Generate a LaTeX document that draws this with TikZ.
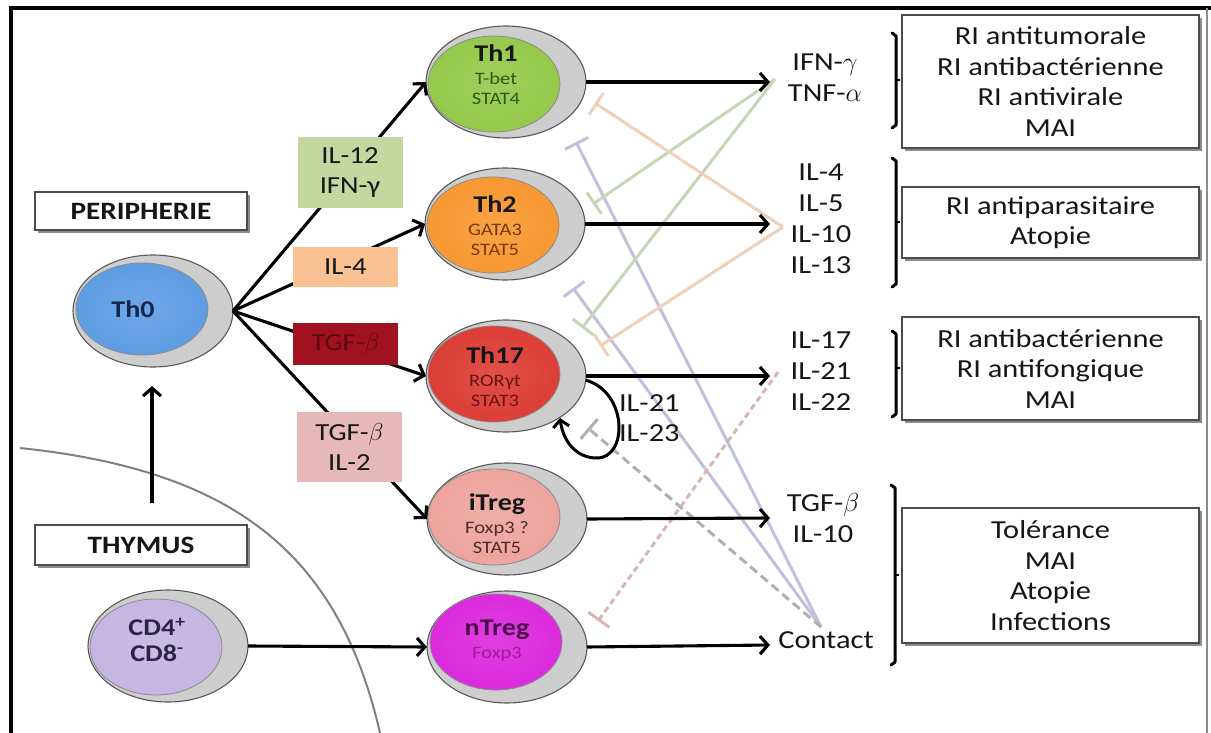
\documentclass[tikz,border=0pt]{standalone}
\usepackage{fix-cm}
\usepackage{fontspec}
\setmainfont{Carlito}[FakeStretch=1.17]
\usetikzlibrary{arrows.meta,shadows,calc,shapes.geometric}

% cell colours
\definecolor{inkc}{HTML}{161616}
\definecolor{thzero}{HTML}{5B9BE3}
\definecolor{thone}{HTML}{93C847}
\definecolor{thtwo}{HTML}{F7962E}
\definecolor{thsev}{HTML}{DB3A32}
\definecolor{itr}{HTML}{EDA29C}
\definecolor{ntr}{HTML}{DB25DB}
\definecolor{cdc}{HTML}{C3B3E1}
\definecolor{thzerotx}{HTML}{17264F}
\definecolor{thonetx}{HTML}{2F5A12}
\definecolor{thtwotx}{HTML}{7A3806}
\definecolor{thsevtx}{HTML}{6A1212}
\definecolor{itrtx}{HTML}{4D2B2B}
\definecolor{ntrname}{HTML}{4A0C4A}
\definecolor{ntrtx}{HTML}{A01AA0}
\definecolor{cdtx}{HTML}{2B2443}
% cytokine cue colours
\definecolor{cuegreen}{HTML}{C4D79E}
\definecolor{cuepeach}{HTML}{FAC293}
\definecolor{cuedark}{HTML}{A0121F}
\definecolor{cuedarktx}{HTML}{5A0A12}
\definecolor{cuepink}{HTML}{E6B9B8}
% inhibition colours
\definecolor{inhg}{HTML}{C6D7B8}
\definecolor{inhp}{HTML}{F0D0B8}
\definecolor{inhl}{HTML}{C0C0DD}
\definecolor{inhgray}{HTML}{B0B0B0}
\definecolor{inhpink}{HTML}{DBB5B5}

% bevelled cell body and membrane shadings
\colorlet{cellbase}{thzero}
\pgfdeclareradialshading[cellbase]{cellbevel}{\pgfpoint{0bp}{0bp}}{%
  color(0bp)=(cellbase!88!white); color(30bp)=(cellbase);
  color(44bp)=(cellbase); color(50bp)=(cellbase!80!black)}
\pgfdeclareradialshading{shellshade}{\pgfpoint{0bp}{0bp}}{%
  color(0bp)=(black!20); color(38bp)=(black!19);
  color(47bp)=(black!11); color(50bp)=(black!16)}

\newcommand\namef{\fontsize{24}{26}\selectfont\bfseries}
\newcommand\subf{\fontsize{17.5}{20}\selectfont}

\begin{document}
\begin{tikzpicture}[x=1pt,y=-1pt,
  every node/.style={inner sep=0pt,outer sep=0pt,text=inkc},
  shell/.style={ellipse,draw=black!65,line width=1.1pt,shading=shellshade,
    minimum width=160pt,minimum height=112pt},
  core/.style={ellipse,draw=black!45,line width=0.8pt,
    /utils/exec={\colorlet{cellbase}{#1}},shading=cellbevel,
    minimum width=132pt,minimum height=96pt},
  celltext/.style={align=center,font=\subf},
  link/.style={line width=3.1pt,-{Straight Barb[length=8pt,width=18pt]}},
  cue/.style={minimum width=105pt,align=center,font=\fontsize{24.5}{30}\selectfont},
  sitebox/.style={draw=black!70,line width=2pt,fill=white,minimum width=212pt,
    font=\fontsize{25}{28}\selectfont\bfseries,
    drop shadow={shadow xshift=3pt,shadow yshift=-3pt,fill=black,opacity=0.45}},
  effbox/.style={draw=black!70,line width=2pt,fill=white,minimum width=297pt,
    align=center,font=\fontsize{26}{30.5}\selectfont,
    drop shadow={shadow xshift=3pt,shadow yshift=-3pt,fill=black,opacity=0.45}},
  cyt/.style={align=center,font=\fontsize{26}{31}\selectfont},
  brk/.style={line width=3pt,line cap=round,line join=round},
  inh/.style={line width=3pt,-{Bar[width=26pt]}},
]
\useasboundingbox (0,0) rectangle (1211,733);

% frame
\draw[line width=3.5pt] (11,733) -- (11,8) -- (1211,8);
\draw[black!45,line width=1.2pt] (1207,8) -- (1207,733);

% thymus / periphery boundary
\draw[black!50,line width=2pt] (20,448) .. controls (230,470) and (338,550) .. (380,733);

% cells
\node[shell] (th0) at (153,311) {};
\node[core=thzero,minimum height=92pt] (th0c) at (142,309) {};
\node[font=\namef,text=thzerotx] (th0t) at (133,309) {Th0};

\node[shell] (th1) at (506,82) {};
\node[core=thone] (th1c) at (494,84) {};
\node[celltext,text=thonetx] (th1t) at (496,75) {\textcolor{inkc}{\namef Th1}\\[3pt] T-bet\\ STAT4};

\node[shell] (th2) at (505,224) {};
\node[core=thtwo] (th2c) at (493,225) {};
\node[celltext,text=thtwotx] (th2t) at (495,226) {\textcolor{inkc}{\namef Th2}\\[3pt] GATA3\\ STAT5};

\node[shell] (th17) at (506,376) {};
\node[core=thsev] (th17c) at (494,374) {};
\node[celltext,text=thsevtx] (th17t) at (495,377) {\textcolor{inkc}{\namef Th17}\\[3pt] RORγt\\ STAT3};

\node[shell] (itreg) at (507,519) {};
\node[core=itr] (itregc) at (494,517) {};
\node[celltext,text=itrtx] (itregt) at (497,524) {\textcolor{inkc}{\namef iTreg}\\[3pt] Foxp3 ?\\ STAT5};

\node[shell] (ntreg) at (507,647) {};
\node[core=ntr] (ntregc) at (496,642) {};
\node[celltext,text=ntrtx] (ntregt) at (497,641) {\textcolor{ntrname}{\namef nTreg}\\[3pt] Foxp3};

\node[shell] (cd4) at (168,646) {};
\node[core=cdc] (cd4c) at (156,647) {};
\node[align=center,font=\namef,text=cdtx] (cd4t) at (157,640) {CD4\textsuperscript{+}\\ CD8\textsuperscript{-}};

% cytokine labels
\node[cyt] (cyt1) at (825,78) {IFN-$\gamma$\\ TNF-$\alpha$};
\node[cyt] (cyt2) at (821,219) {IL-4\\ IL-5\\ IL-10\\ IL-13};
\node[cyt] (cyt3) at (821,371) {IL-17\\ IL-21\\ IL-22};
\node[cyt] (cyt4) at (823,518) {TGF-$\beta$\\ IL-10};
\node[cyt] (cyt5) at (826,640) {Contact};

% arrow ends and inhibition origins
\coordinate (t1) at (770,82);
\coordinate (t2) at (770,224);
\coordinate (t3) at (770,376);
\coordinate (t4) at (770,518);
\coordinate (t5) at (770,645);
\coordinate (apexA) at (775,79);
\coordinate (apexB) at (783,227);
\coordinate (apexC) at (778,372);
\coordinate (apexD) at (821,627);
\coordinate (eA1) at (593,204);
\coordinate (eA2) at (582,328);
\coordinate (eB1) at (595,103);
\coordinate (eB2) at (600,346);
\coordinate (eD1) at (576,142);
\coordinate (eD2) at (573,288);
\coordinate (eD3) at (588,428);
\coordinate (eC1) at (598,621);

% inhibitions
\draw[inh,draw=inhl] (apexD) -- (eD1);
\draw[inh,draw=inhl] (apexD) -- (eD2);
\draw[inh,draw=inhg] (apexA) -- (eA1);
\draw[inh,draw=inhg] (apexA) -- (eA2);
\draw[inh,draw=inhp] (apexB) -- (eB1);
\draw[inh,draw=inhp] (apexB) -- (eB2);
\draw[inh,draw=inhgray,dash pattern=on 9pt off 5pt] (apexD) -- (eD3);
\draw[inh,draw=inhpink,dash pattern=on 6pt off 4pt] (apexC) -- (eC1);

% differentiation
\draw[link] (th0.east) -- (th1.west);
\draw[link] (th0.east) -- (th2.west);
\draw[link] (th0.east) -- (th17.west);
\draw[link] (th0.east) -- (itreg.west);
\draw[link] (cd4.east) -- (ntreg.west);

% secretion
\draw[link] (th1.east) -- (t1);
\draw[link] (th2.east) -- (t2);
\draw[link] (th17.east) -- (t3);
\draw[link] (itreg.east) -- (t4);
\draw[link] (ntreg.east) -- (t5);

% autocrine loop
\draw[line width=3pt,-{Straight Barb[length=7pt,width=16pt]}]
  (th17.-3) .. controls (628,392) and (628,458) .. (597,458)
  .. controls (575,458) and (563,440) .. (560,418);
\node[align=left,font=\fontsize{26}{30}\selectfont,anchor=west] (loopl) at (619,418) {IL-21\\ IL-23};

% cytokine cues
\node[cue,fill=cuegreen,minimum height=71pt] (cue1) at (350,172.5) {IL-12\\ IFN-γ};
\node[cue,fill=cuepeach,minimum height=40pt] (cue2) at (345.5,267) {IL-4};
\node[cue,fill=cuedark,minimum height=42pt,text=cuedarktx] (cue3) at (345.5,344) {TGF-$\beta$};
\node[cue,fill=cuepink,minimum height=70pt] (cue4) at (349.5,447) {TGF-$\beta$\\ IL-2};

% compartments
\node[sitebox,minimum height=38pt] (peri) at (141,211) {PERIPHERIE};
\node[sitebox,minimum height=40pt] (thym) at (141,545) {THYMUS};
\draw[link] ($(thym.north)+(11,-22)$) -- ($(th0.south)+(-1,19)$);

% functions
\node[effbox,minimum height=133pt] (f1) at (1050.5,81.5) {RI antitumorale\\ RI antibactérienne\\ RI antivirale\\ MAI};
\node[effbox,minimum height=71pt] (f2) at (1050.5,222.5) {RI antiparasitaire\\ Atopie};
\node[effbox,minimum height=103pt] (f3) at (1050.5,368.5) {RI antibactérienne\\ RI antifongique\\ MAI};
\node[effbox,minimum height=135pt] (f4) at (1050.5,575.5) {Tolérance\\ MAI\\ Atopie\\ Infections};

% brackets
\draw[brk] (892,33) -- (896,36) -- (896,125) -- (892,128);
\draw[line width=1.5pt] (896,80) -- (900,80);
\draw[brk] (892,158) -- (896,161) -- (896,284) -- (892,287);
\draw[line width=1.5pt] (896,222) -- (900,222);
\draw[brk] (892,331) -- (896,334) -- (896,414) -- (892,417);
\draw[line width=1.5pt] (896,368) -- (900,368);
\draw[brk] (891,485) -- (895,488) -- (895,662) -- (891,665);
\draw[line width=1.5pt] (895,575) -- (899,575);
\end{tikzpicture}
\end{document}
